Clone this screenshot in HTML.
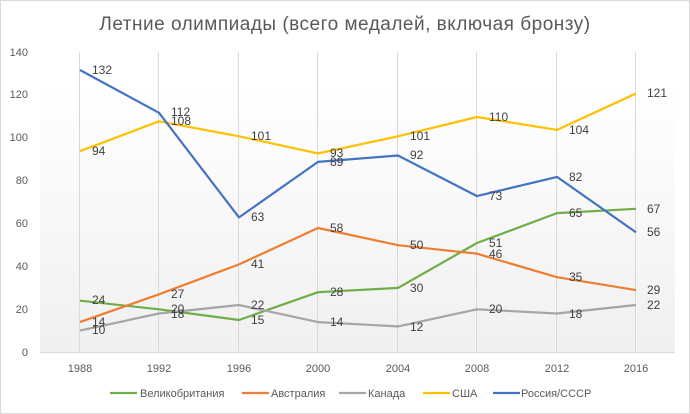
<!DOCTYPE html>
<html><head><meta charset="utf-8"><style>
body{margin:0;background:#fff}
svg{display:block;font-family:"Liberation Sans","DejaVu Sans",sans-serif}
.t{font-size:11px;fill:#595959}
.l{font-size:12px;fill:#404040}
</style></head><body>
<svg width="690" height="414" viewBox="0 0 690 414">
<defs><linearGradient id="g" x1="0" y1="0" x2="0" y2="1">
<stop offset="0" stop-color="#fff"/><stop offset="0.12" stop-color="#fff"/><stop offset="1" stop-color="#f0f0f0"/></linearGradient></defs>
<rect x="0.5" y="0.5" width="689" height="413" fill="#fff" stroke="#d9d9d9"/>
<rect x="40" y="52" width="635" height="300" fill="url(#g)"/>
<text x="345" y="30" text-anchor="middle" style="font-size:19px;fill:#595959;letter-spacing:0.5px">Летние  олимпиады  (всего  медалей,  включая  бронзу)</text>
<g stroke="#d9d9d9" stroke-width="1">
<line x1="79.5" y1="52" x2="79.5" y2="352"/><line x1="158.5" y1="52" x2="158.5" y2="352"/><line x1="238.5" y1="52" x2="238.5" y2="352"/><line x1="317.5" y1="52" x2="317.5" y2="352"/><line x1="397.5" y1="52" x2="397.5" y2="352"/><line x1="476.5" y1="52" x2="476.5" y2="352"/><line x1="556.5" y1="52" x2="556.5" y2="352"/><line x1="635.5" y1="52" x2="635.5" y2="352"/>
<line x1="40" y1="352.5" x2="675" y2="352.5"/>
</g>
<g class="t" text-anchor="end">
<text x="28" y="356">0</text><text x="28" y="313">20</text><text x="28" y="270">40</text><text x="28" y="227">60</text><text x="28" y="184">80</text><text x="28" y="141">100</text><text x="28" y="98">120</text><text x="28" y="56">140</text>
</g>
<g class="t" text-anchor="middle">
<text x="80" y="372">1988</text><text x="159" y="372">1992</text><text x="239" y="372">1996</text><text x="318" y="372">2000</text><text x="398" y="372">2004</text><text x="477" y="372">2008</text><text x="557" y="372">2012</text><text x="636" y="372">2016</text>
</g>
<g fill="none" stroke-width="2.2" stroke-linejoin="round">
<polyline stroke="#70ad47" points="80,300.7 159,309.3 239,320 318,292.2 398,287.9 477,243 557,213.1 636,208.8"/>
<polyline stroke="#ed7d31" points="80,322.1 159,294.3 239,264.4 318,228 398,245.2 477,253.7 557,277.2 636,290.1"/>
<polyline stroke="#a5a5a5" points="80,330.6 159,313.5 239,305 318,322.1 398,326.4 477,309.3 557,313.5 636,305"/>
<polyline stroke="#ffc000" points="80,151.2 159,121.3 239,136.3 318,153.4 398,136.3 477,117 557,129.9 636,93.5"/>
<polyline stroke="#4472c4" points="80,70 159,112.8 239,217.4 318,161.9 398,155.5 477,196.1 557,176.9 636,232.3"/>
</g>
<g class="l">
<text x="92" y="74">132</text><text x="92" y="155">94</text><text x="92" y="304">24</text><text x="92" y="326">14</text><text x="92" y="334">10</text>
<text x="171" y="116">112</text><text x="171" y="125">108</text><text x="171" y="298">27</text><text x="171" y="313">20</text><text x="171" y="318">18</text>
<text x="251" y="140">101</text><text x="251" y="221">63</text><text x="251" y="268">41</text><text x="251" y="309">22</text><text x="251" y="324">15</text>
<text x="330" y="157">93</text><text x="330" y="166">89</text><text x="330" y="232">58</text><text x="330" y="296">28</text><text x="330" y="326">14</text>
<text x="410" y="140">101</text><text x="410" y="159">92</text><text x="410" y="249">50</text><text x="410" y="292">30</text><text x="410" y="331">12</text>
<text x="489" y="121">110</text><text x="489" y="200">73</text><text x="489" y="247">51</text><text x="489" y="258">46</text><text x="489" y="313">20</text>
<text x="569" y="134">104</text><text x="569" y="181">82</text><text x="569" y="217">65</text><text x="569" y="281">35</text><text x="569" y="318">18</text>
<text x="647" y="97">121</text><text x="647" y="213">67</text><text x="647" y="236">56</text><text x="647" y="294">29</text><text x="647" y="309">22</text>
</g>
<g stroke-width="2.2">
<line x1="110" y1="393" x2="137" y2="393" stroke="#70ad47"/>
<line x1="242" y1="393" x2="269" y2="393" stroke="#ed7d31"/>
<line x1="339" y1="393" x2="366" y2="393" stroke="#a5a5a5"/>
<line x1="423" y1="393" x2="450" y2="393" stroke="#ffc000"/>
<line x1="493" y1="393" x2="520" y2="393" stroke="#4472c4"/>
</g>
<g class="t">
<text x="140" y="397">Великобритания</text><text x="271" y="397">Австралия</text><text x="368" y="397">Канада</text><text x="452" y="397">США</text><text x="521" y="397">Россия/СССР</text>
</g>
</svg>
</body></html>
